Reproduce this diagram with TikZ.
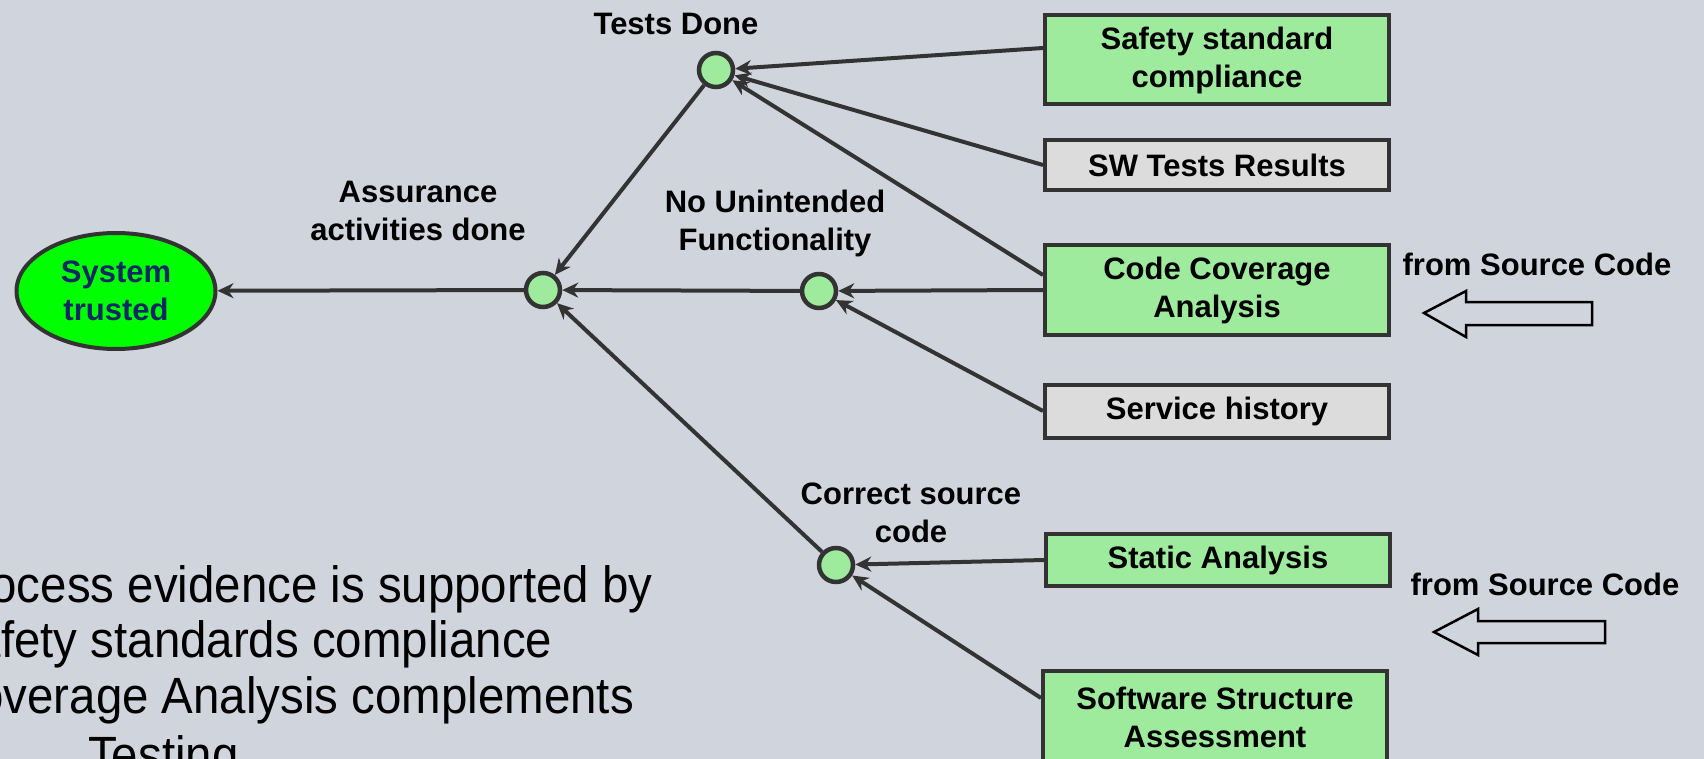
\documentclass[tikz,border=0pt]{standalone}
\usepackage{fontspec}
\setmainfont{Liberation Sans}
\newfontfamily\bodyfont[FakeStretch=0.93]{Liberation Sans}
\usetikzlibrary{arrows.meta,calc,shapes.geometric}
\definecolor{bg}{RGB}{208,212,220}
\definecolor{boxgreen}{RGB}{158,235,158}
\definecolor{boxgrey}{RGB}{220,220,220}
\definecolor{edgecol}{RGB}{51,51,51}
\definecolor{navy}{RGB}{10,40,100}
\definecolor{brightgreen}{RGB}{0,255,0}
\begin{document}
\begin{tikzpicture}[x=1pt,y=-1pt,
  lbl/.style={font=\fontsize{31}{38}\selectfont\bfseries, align=center, inner sep=0pt},
  evbox/.style={draw=edgecol, line width=4pt, minimum width=344pt, font=\fontsize{31}{38}\selectfont\bfseries, align=center, inner sep=0pt},
  greenbox/.style={evbox, fill=boxgreen},
  greybox/.style={evbox, fill=boxgrey},
  goal/.style={circle, draw=edgecol, line width=4.5pt, fill=boxgreen, minimum size=34pt, inner sep=0pt},
  conn/.style={draw=edgecol, line width=4pt, -{Stealth[length=16pt,width=15pt]}},
  hollow/.style={draw=black, line width=2.5pt, line join=miter},
  body/.style={font=\bodyfont\fontsize{51}{55}\selectfont, inner sep=0pt, anchor=base west}
]
\fill[bg] (0,0) rectangle (1704,759);
\useasboundingbox (0,0) rectangle (1704,759);
\clip (0,0) rectangle (1704,759);

% goal ellipse
\node[ellipse, draw=edgecol, line width=4pt, fill=brightgreen, minimum width=199pt, minimum height=116pt,
      inner sep=0pt, align=center, text=navy, font=\fontsize{31}{38}\selectfont\bfseries] (st) at (116,291) {System\\trusted};

% intermediate goals
\node[goal] (ad) at (543,290) {};
\node[goal] (td) at (716,70) {};
\node[goal] (nu) at (819,291) {};
\node[goal] (cs) at (836,565) {};

% labels
\node[lbl] (ltd) at (676,24) {Tests Done};
\node[lbl] (lad) at (418,211) {Assurance\\activities done};
\node[lbl] (lnu) at (775,223) {No Unintended\\Functionality};
\node[lbl] (lcs) at (911,513) {Correct source\\code};
\node[lbl] (fsc1) at (1537,264) {from Source Code};
\node[lbl] (fsc2) at (1545,584) {from Source Code};

% evidence boxes
\node[greenbox, minimum height=89pt] (ssc) at (1217,60) {Safety standard\\compliance};
\node[greybox, minimum height=50pt] (swt) at (1217,165) {SW Tests Results};
\node[greenbox, minimum height=89pt] (cca) at (1217,290) {Code Coverage\\Analysis};
\node[greybox, minimum height=53pt] (svh) at (1217,411) {Service history};
\node[greenbox, minimum height=52pt] (sta) at (1218,560) {Static Analysis};
\node[greenbox, minimum height=92pt] (ssa) at (1215,717) {Software Structure\\Assessment};

% connectors
\draw[conn] (ad) -- (st);
\draw[conn] (td) -- (ad);
\draw[conn] (nu) -- (ad);
\draw[conn] (cs) -- (ad);
\draw[conn] ([yshift=12pt]ssc.west) -- (td);
\draw[conn] (swt.west) -- (td);
\draw[conn] ([yshift=15pt]cca.west) -- (td);
\draw[conn] (cca.west) -- (nu);
\draw[conn] (svh.west) -- (nu);
\draw[conn] (sta.west) -- (cs);
\draw[conn] ([yshift=19pt]ssa.west) -- (cs);

% hollow arrows
\draw[hollow] (1424,313) -- (1466,291) -- (1466,302) -- (1592,302) -- (1592,325) -- (1466,325) -- (1466,337) -- cycle;
\draw[hollow] (1434,632) -- (1478,609) -- (1478,621) -- (1605,621) -- (1605,643) -- (1478,643) -- (1478,655) -- cycle;

% body text
\node[body] (t1) at (-57,602) {Process evidence is supported by};
\node[body] (t2) at (-57,657) {Safety standards compliance};
\node[body] (t3) at (-57,713) {Coverage Analysis complements};
\node[body] (t4) at (88,772) {Testing};
\end{tikzpicture}
\end{document}
